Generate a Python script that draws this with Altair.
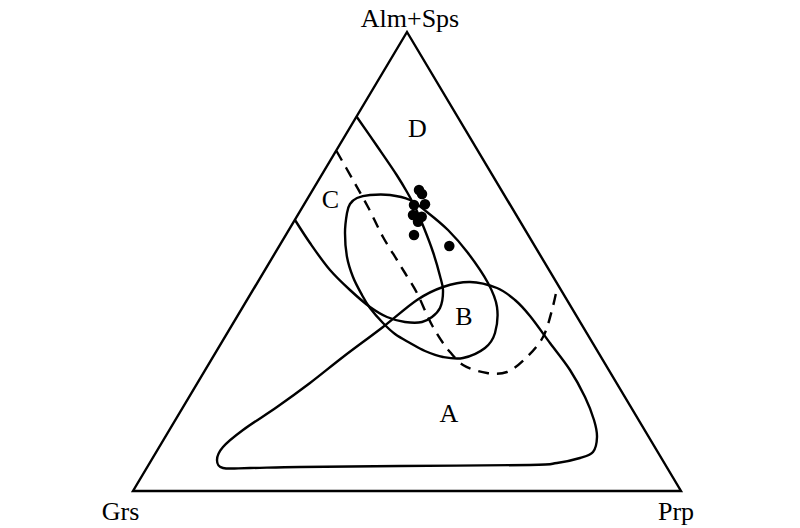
import altair as alt
import pandas as pd

# Diagram coordinates (x to the right, y downward)
tri_x = [407, 681, 133]
tri_y = [32, 491, 491]

# boundary C / D (open curve from left edge, through the dots, looping back to left edge)
cd_x = [356.5, 377, 396.7, 407, 415, 424, 433, 440, 443, 440, 432, 422, 405, 387, 370, 350, 330, 310, 295]
cd_y = [116.5, 146, 175, 192, 207, 228, 252, 276, 290, 308, 317, 322, 322, 317, 307, 290, 270, 243, 220]

# dashed boundary
dash_x = [336.5, 353, 368, 383, 397, 405, 417, 427, 433, 443, 450, 463, 487, 507, 527, 543, 552, 556]
dash_y = [151, 180, 207, 237, 260, 273, 293, 315, 327, 343, 352, 365, 373, 372, 357, 337, 310, 293]

# field B (closed)
b_x = [350, 357, 370, 390, 410, 427, 448, 468, 488, 497, 495, 485, 463, 443, 425, 410, 395, 383, 370, 362, 353, 347, 345, 347]
b_y = [204, 198, 195, 195, 200, 212, 230, 253, 283, 307, 333, 348, 358, 357, 351, 343, 334, 323, 308, 295, 277, 257, 233, 213]

# field A (closed)
a_x = [470, 497, 515, 530, 550, 570, 585, 594, 597, 593, 580, 557, 530, 400, 300, 250, 223, 217, 223, 243, 277, 310, 343, 383, 417, 443]
a_y = [282, 288, 300, 316, 343, 370, 397, 420, 437, 452, 458, 463, 465, 466, 467, 468, 468, 460, 447, 430, 407, 383, 357, 327, 300, 287]

# sample points
pt_x = [419, 422, 425, 414, 413, 421.7, 418, 414, 449.3]
pt_y = [190, 194, 204.3, 205, 215, 216.7, 221.7, 235, 246]

# labels
corner_text = ["Alm+Sps", "Grs", "Prp"]
corner_x = [410, 120.5, 676]
corner_y = [27, 520, 520]

field_text = ["D", "C", "B", "A"]
field_x = [417.5, 330.5, 464, 449]
field_y = [137, 208, 325, 422]

X = alt.Scale(domain=[8, 792], nice=False, zero=False)
Y = alt.Scale(domain=[8, 526], nice=False, zero=False, reverse=True)


def df(xs, ys):
    return pd.DataFrame({"x": xs, "y": ys, "i": list(range(len(xs)))})


def enc(ch):
    return ch.encode(
        x=alt.X("x:Q", scale=X, axis=None),
        y=alt.Y("y:Q", scale=Y, axis=None),
        order="i:Q",
    )


SW = 2.4

tri = enc(alt.Chart(df(tri_x, tri_y)).mark_line(interpolate="linear-closed", color="black", strokeWidth=SW, strokeJoin="miter"))
cd = enc(alt.Chart(df(cd_x, cd_y)).mark_line(interpolate="catmull-rom", color="black", strokeWidth=SW))
dash = enc(alt.Chart(df(dash_x, dash_y)).mark_line(interpolate="catmull-rom", color="black", strokeWidth=SW, strokeDash=[11, 8]))
fb = enc(alt.Chart(df(b_x, b_y)).mark_line(interpolate="cardinal-closed", color="black", strokeWidth=SW))
fa = enc(alt.Chart(df(a_x, a_y)).mark_line(interpolate="cardinal-closed", color="black", strokeWidth=SW))

pts = alt.Chart(df(pt_x, pt_y)).mark_circle(size=110, color="black", opacity=1).encode(
    x=alt.X("x:Q", scale=X, axis=None),
    y=alt.Y("y:Q", scale=Y, axis=None),
)

ct = pd.DataFrame({"x": corner_x, "y": corner_y, "t": corner_text})
ft = pd.DataFrame({"x": field_x, "y": field_y, "t": field_text})

corner_lbl = alt.Chart(ct).mark_text(font="Liberation Serif", fontSize=26, baseline="alphabetic", align="center", color="black").encode(
    x=alt.X("x:Q", scale=X, axis=None),
    y=alt.Y("y:Q", scale=Y, axis=None),
    text="t:N",
)
field_lbl = alt.Chart(ft).mark_text(font="Liberation Serif", fontSize=26, baseline="alphabetic", align="center", color="black").encode(
    x=alt.X("x:Q", scale=X, axis=None),
    y=alt.Y("y:Q", scale=Y, axis=None),
    text="t:N",
)

chart = alt.layer(tri, fa, fb, dash, cd, pts, corner_lbl, field_lbl).properties(
    width=784,
    height=518,
    autosize=alt.AutoSizeParams(type="none"),
    padding=0,
    background="white",
).configure_view(stroke=None)

chart.save("out.html", embed_options={"renderer": "svg", "actions": False})
